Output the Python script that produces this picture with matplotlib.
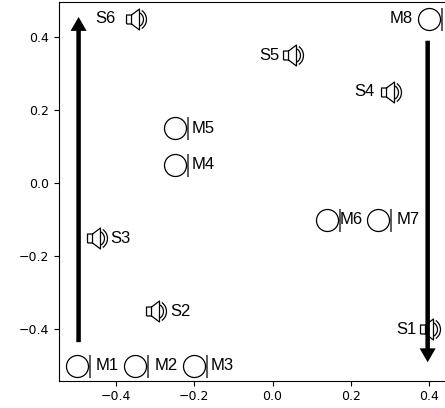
import matplotlib
matplotlib.use("Agg")
import matplotlib.pyplot as plt
import numpy as np
from matplotlib.path import Path

mic_names = ["M1", "M2", "M3", "M4", "M5", "M6", "M7", "M8"]
mic_x = [-0.5, -0.35, -0.2, -0.25, -0.25, 0.14, 0.27, 0.4]
mic_y = [-0.5, -0.5, -0.5, 0.05, 0.15, -0.1, -0.1, 0.45]

src_names = ["S1", "S2", "S3", "S4", "S5", "S6"]
src_x = [0.4, -0.3, -0.45, 0.3, 0.05, -0.35]
src_y = [-0.4, -0.35, -0.15, 0.25, 0.35, 0.45]

x_ticks = [-0.4, -0.2, 0.0, 0.2, 0.4]
y_ticks = [-0.4, -0.2, 0.0, 0.2, 0.4]

# text placement relative to the marker, in points
mic_offsets = [(13.5, 0), (13.5, 0), (12, 0), (12, 0), (12, 0), (9, 0), (13, 0), (-12, 0)]
src_offsets = [(-9, 0), (11, 0), (10, 0), (-11, 0), (-9, 0), (-14, 0)]
mic_align = ["left"] * 7 + ["right"]
src_align = ["right", "left", "left", "right", "right", "right"]


def mic_marker():
    circle = Path.unit_circle()
    circle = Path(circle.vertices * 11, circle.codes)
    bar = Path([(12.5, -11.5), (12.5, 11.5)], [Path.MOVETO, Path.LINETO])
    return Path.make_compound_path(circle, bar)


def speaker_marker():
    body = Path([(-9, -4.5), (-4, -4.5), (-4, 4.5), (-9, 4.5), (-9, -4.5)],
                [Path.MOVETO] + [Path.LINETO] * 4)
    cone = Path([(-4, 4.5), (4, 10.5), (4, -10.5), (-4, -4.5)],
                [Path.MOVETO] + [Path.LINETO] * 3)
    parts = [body, cone]
    for r in (8, 11):
        arc = Path.arc(-55, 55)
        parts.append(Path(arc.vertices * r, arc.codes))
    return Path.make_compound_path(*parts)


fig = plt.figure(figsize=(4.45, 4.08), dpi=100)
ax = fig.add_axes([59 / 445, 27.5 / 408, 400 / 445, 378.5 / 408])

ax.plot(mic_x, mic_y, ls="none", marker=mic_marker(), ms=18, mfc="none", mec="k", mew=0.9)
ax.plot(src_x, src_y, ls="none", marker=speaker_marker(), ms=15.8, mfc="none", mec="k", mew=0.9)

for name, x, y, off, ha in zip(mic_names, mic_x, mic_y, mic_offsets, mic_align):
    ax.annotate(name, (x, y), xytext=off, textcoords="offset points", ha=ha, va="center",
                fontsize=12, family="Liberation Sans")
for name, x, y, off, ha in zip(src_names, src_x, src_y, src_offsets, src_align):
    ax.annotate(name, (x, y), xytext=off, textcoords="offset points", ha=ha, va="center",
                fontsize=12, family="Liberation Sans")

ax.arrow(-0.495, -0.435, 0, 0.89, width=0.0115, head_width=0.041, head_length=0.038,
         length_includes_head=True, color="k", lw=0)
ax.arrow(0.396, 0.39, 0, -0.88, width=0.0115, head_width=0.041, head_length=0.038,
         length_includes_head=True, color="k", lw=0)

ax.set_xlim(-0.545, 0.476)
ax.set_ylim(-0.54, 0.496)
ax.set_xticks(x_ticks)
ax.set_yticks(y_ticks)
ax.tick_params(labelsize=9)

plt.savefig("out.png", dpi=100)
